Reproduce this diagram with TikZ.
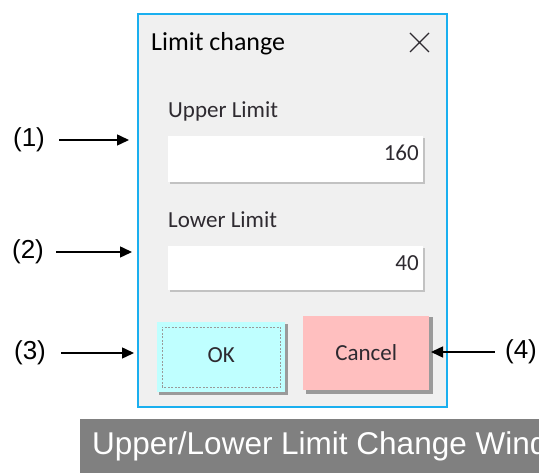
\documentclass[tikz,border=0pt]{standalone}
\usepackage{fontspec}
\setmainfont{Liberation Sans}
\newfontfamily\uifont{Carlito}
\usetikzlibrary{arrows.meta}
\definecolor{dlgblue}{HTML}{1AAFEF}
\definecolor{dlggray}{HTML}{F0F0F0}
\definecolor{okcyan}{HTML}{BFFFFF}
\definecolor{cancelpink}{HTML}{FFBFBF}
\definecolor{shadowgray}{HTML}{9A9A9A}
\definecolor{captiongray}{HTML}{808080}
\definecolor{uitext}{HTML}{2E2A30}
\tikzset{
  calloutlabel/.style={font=\fontsize{26}{26}\selectfont, inner sep=0pt},
  callout/.style={-{Triangle[length=12pt,width=11pt]}, line width=1.5pt},
  uitxt/.style={font=\uifont\fontsize{23}{23}\selectfont, text=uitext, inner sep=0pt},
  textbox/.style={fill=white, draw=none, minimum width=255pt, minimum height=46pt, inner sep=0pt, anchor=north west},
}
\begin{document}
\begin{tikzpicture}[x=1pt,y=-1pt]
\useasboundingbox (0,0) rectangle (539,473);
% dialog
\node (dlg) [draw=dlgblue, line width=1.6pt, fill=dlggray, minimum width=309pt, minimum height=393pt, inner sep=0pt, anchor=north west] at (137,13) {};
\node (title) [uitxt, anchor=west, text=black, font=\uifont\fontsize{26}{26}\selectfont] at (151,44) {Limit change};
\draw[line width=1.4pt, uitext] (410,33) -- (429,52) (429,33) -- (410,52);
% upper limit
\node (ulabel) [uitxt, anchor=west] at (168,111) {Upper Limit};
\fill[shadowgray!60] (170,138) rectangle (425,184);
\node (ubox) [textbox] at (168,136) {};
\node (uval) [uitxt, anchor=east] at (419,153) {160};
% lower limit
\node (llabel) [uitxt, anchor=west] at (168,220) {Lower Limit};
\fill[shadowgray!60] (170,248) rectangle (425,292);
\node (lbox) [textbox, minimum height=44pt] at (168,246) {};
\node (lval) [uitxt, anchor=east] at (419,263) {40};
% buttons
\fill[shadowgray] (159,324) rectangle (288,395);
\node (ok) [fill=okcyan, minimum width=128pt, minimum height=70pt, inner sep=0pt, anchor=north west] at (157,322) {};
\draw[shadowgray, line width=0.9pt, dash pattern=on 2pt off 1.5pt] ([shift={(5,-5)}]ok.south west) rectangle ([shift={(-5,5)}]ok.north east);
\node (oktext) [uitxt] at ([yshift=2pt]ok.center) {OK};
\fill[shadowgray] (306,317) rectangle (433,394);
\node (cancel) [fill=cancelpink, minimum width=126pt, minimum height=74pt, inner sep=0pt, anchor=north west] at (303,316) {};
\node (canceltext) [uitxt] at ([yshift=1pt]cancel.center) {Cancel};
% callouts
\node (c1) [calloutlabel] at (29,140) {(1)};
\node (c2) [calloutlabel] at (28,252) {(2)};
\node (c3) [calloutlabel] at (30,353) {(3)};
\node (c4) [calloutlabel] at (521,352) {(4)};
\coordinate (t1) at (129,140);
\coordinate (t2) at (132,252);
\coordinate (t3) at (134,353);
\coordinate (t4) at (431,352);
\draw[callout] ([xshift=14pt]c1.east) -- (t1);
\draw[callout] ([xshift=12pt]c2.east) -- (t2);
\draw[callout] ([xshift=15pt]c3.east) -- (t3);
\draw[callout] ([xshift=-10pt]c4.west) -- (t4);
% caption
\begin{scope}
\clip (0,0) rectangle (539,473);
\fill[captiongray] (80,419) rectangle (560,473);
\node (caption) [anchor=west, text=white, font=\fontsize{31.5}{31.5}\selectfont, inner sep=0pt] at (92,446) {Upper/Lower Limit Change Window};
\end{scope}
\end{tikzpicture}
\end{document}
